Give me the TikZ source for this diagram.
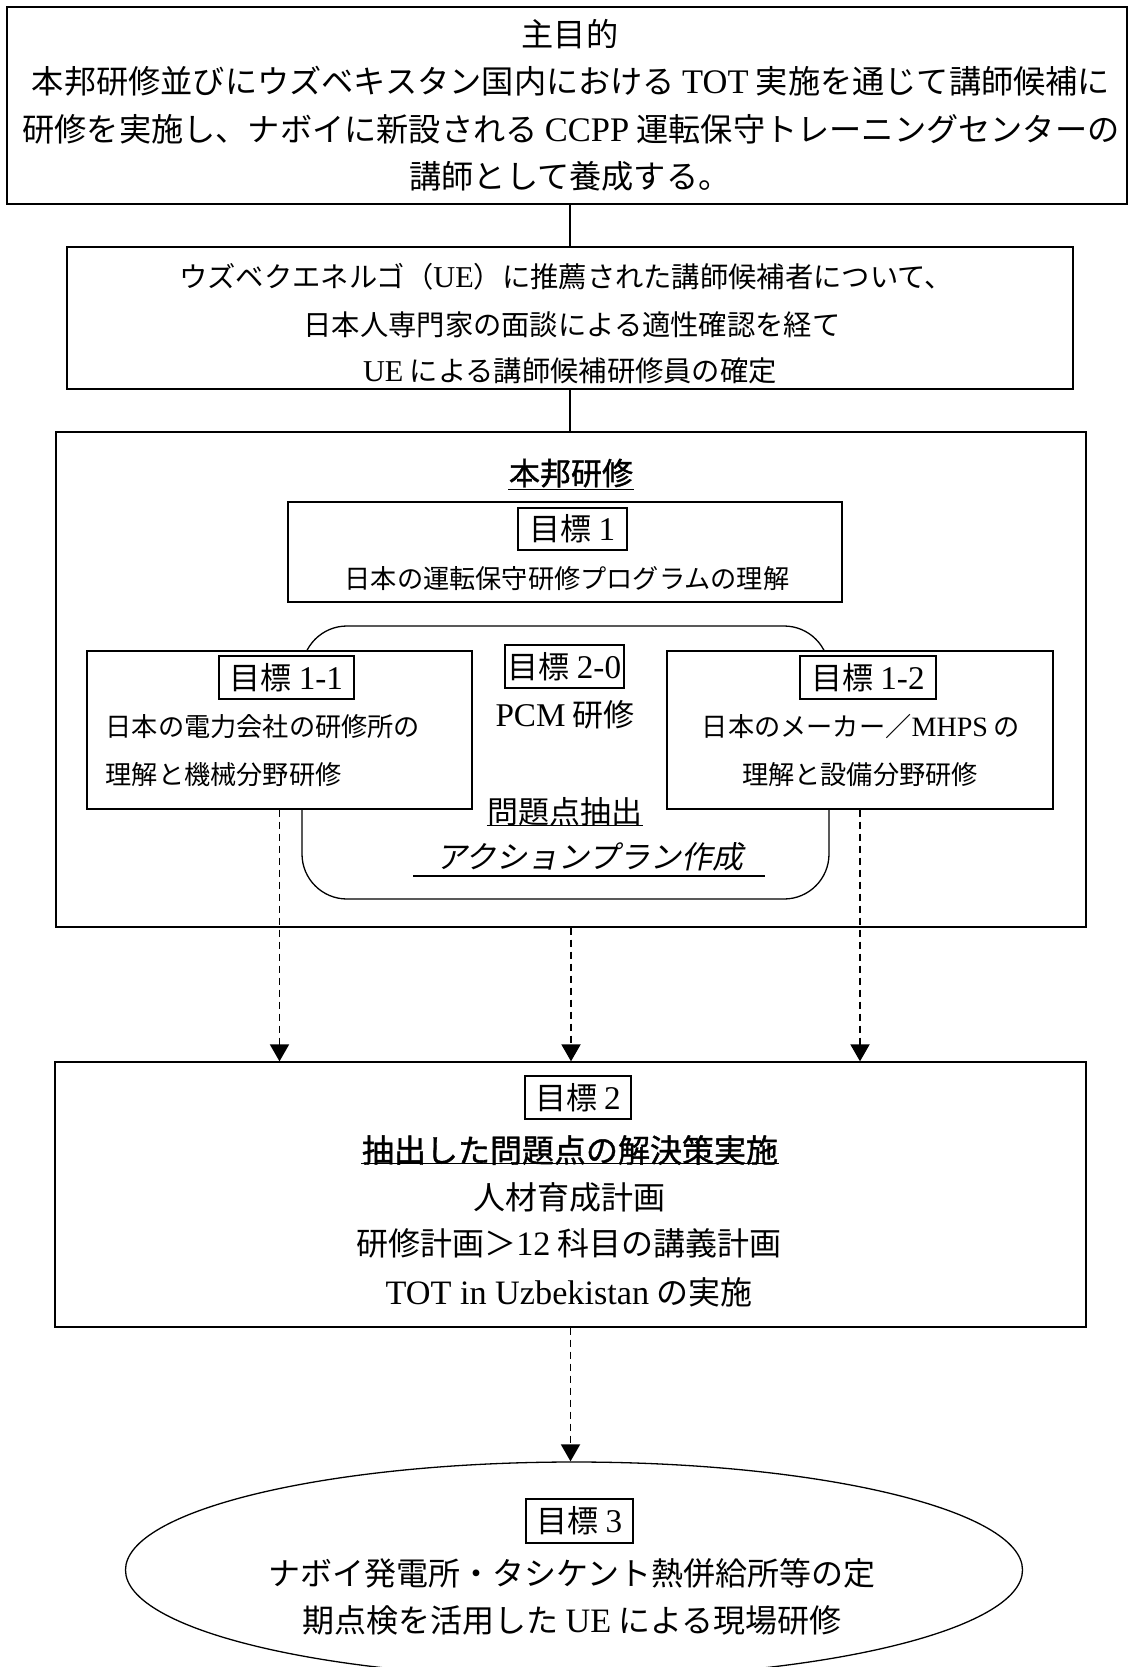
\documentclass[tikz,border=0pt]{standalone}
\usepackage{fontspec}
\setmainfont{Noto Sans CJK JP}
\newfontfamily\lat[Scale=1.07]{Liberation Serif}
\newfontfamily\jpbf[FakeBold=1.2]{Noto Sans CJK JP}
\newfontfamily\jpit[FakeSlant=0.2]{Noto Sans CJK JP}
\usetikzlibrary{arrows.meta,shapes.geometric,calc}
\begin{document}
\begin{tikzpicture}[x=1pt,y=-1pt,line width=1.3pt,
  txtT/.style={font=\fontsize{32.2}{32.2}\selectfont,inner sep=0pt,text height=28.3pt,text depth=3.9pt},
  txtL/.style={font=\fontsize{31}{31}\selectfont,inner sep=0pt,text height=27.3pt,text depth=3.7pt},
  txtX/.style={font=\fontsize{32}{32}\selectfont,inner sep=0pt,text height=28.2pt,text depth=3.8pt},
  txtM/.style={font=\fontsize{28.3}{28.3}\selectfont,inner sep=0pt,text height=24.9pt,text depth=3.4pt},
  txtS/.style={font=\fontsize{26.2}{26.2}\selectfont,inner sep=0pt,text height=23pt,text depth=3.2pt},
  box/.style={draw,line width=1.3pt,inner sep=0pt},
  lbl/.style={draw,line width=1.6pt,txtL,minimum height=43pt},
  uline/.style={line width=1.5pt},
  dashar/.style={line width=1.9pt,dash pattern=on 7pt off 5pt,-{Triangle[width=19pt,length=17pt]}}
]
\path[use as bounding box] (0,0) rectangle (1134,1667);
\clip (0,0) rectangle (1134,1667);

% top box
\node[box,line width=2pt,minimum width=1120pt,minimum height=197pt] (top) at (567,105.5) {};
\node[txtT] (top1) at (570,34) {主目的};
\node[txtT] (top2) at (571,81) {本邦研修並びにウズベキスタン国内における {\lat TOT} 実施を通じて講師候補に};
\node[txtT] (top3) at (571,129) {研修を実施し、ナボイに新設される {\lat CCPP} 運転保守トレーニングセンターの};
\node[txtT] (top4) at (570,176) {講師として養成する。};

% box B
\node[box,minimum width=1006pt,minimum height=142pt] (bb) at (570,318) {};
\node[txtM] (bb1) at (566,277) {ウズベクエネルゴ（{\lat UE}）に推薦された講師候補者について、};
\node[txtM] (bb2) at (572,324.5) {日本人専門家の面談による適性確認を経て};
\node[txtM] (bb3) at (570,371) {{\lat UE} による講師候補研修員の確定};

\draw (top.south -| bb.north) -- (bb.north);

% big box
\node[box,minimum width=1030pt,minimum height=495pt] (big) at (571,679.5) {};
\draw (bb.south) -- (bb.south |- big.north);
\node[txtL,font=\fontsize{31}{31}\selectfont\jpbf] (ttl) at (571,473) {本邦研修};
\draw[uline] ($(ttl.south west)+(0,0.5)$) -- ($(ttl.south east)+(0,0.5)$);

% goal 1
\node[box,minimum width=554pt,minimum height=100pt] (g1) at (565,552) {};
\node[lbl,minimum width=109pt,minimum height=42pt] (l1) at (572.5,529) {目標 {\lat 1}};
\node[txtS] (g1t) at (567,579) {日本の運転保守研修プログラムの理解};

% PCM rounded
\node[box,rounded corners=45pt,minimum width=527pt,minimum height=273pt] (pcm) at (565.5,762.5) {};

% goal 1-1 / 1-2
\node[box,fill=white,minimum width=385pt,minimum height=158pt] (b11) at (279.5,730) {};
\node[box,fill=white,minimum width=386pt,minimum height=158pt] (b12) at (860,730) {};
\node[lbl,minimum width=135pt] (l11) at (286.5,677.5) {目標 {\lat 1-1}};
\node[lbl,minimum width=136pt] (l12) at (868,677.5) {目標 {\lat 1-2}};
\node[lbl,minimum width=119pt] (l20) at (564.5,666.5) {目標 {\lat 2-0}};
\node[txtS,anchor=west] (b11a) at (105,727) {日本の電力会社の研修所の};
\node[txtS,anchor=west] (b11b) at (105,775) {理解と機械分野研修};
\node[txtS] (b12a) at (861,727) {日本のメーカー／{\lat MHPS} の};
\node[txtS] (b12b) at (860,775) {理解と設備分野研修};

\node[txtL] (pcmt) at (565,715) {{\lat PCM} 研修};
\node[txtL] (mon) at (565,812) {問題点抽出};
\draw[uline] ($(mon.south west)+(0,-2.5)$) -- ($(mon.south east)+(0,-2.5)$);
\node[txtL,font=\fontsize{31}{31}\selectfont\jpit] (ap) at (590,857) {アクションプラン作成};
\coordinate (apL) at (413,876);
\coordinate (apR) at (765,876);
\draw[uline] (apL) -- (apR);

% goal 2
\node[box,minimum width=1031pt,minimum height=265pt] (b2) at (570.5,1194.5) {};
\node[lbl,minimum width=106pt] (l2) at (578,1097.5) {目標 {\lat 2}};
\node[txtX,font=\fontsize{32}{32}\selectfont\jpbf] (b2a) at (570,1150) {抽出した問題点の解決策実施};
\draw[uline] ($(b2a.south west)+(0,-3)$) -- ($(b2a.south east)+(0,-3)$);
\node[txtX] (b2b) at (569,1197) {人材育成計画};
\node[txtX] (b2c) at (569,1243) {研修計画＞{\lat 12} 科目の講義計画};
\node[txtX] (b2d) at (569,1292) {{\lat TOT in Uzbekistan} の実施};

% arrows into goal 2
\draw[dashar] (b11.south) -- (b11.south |- b2.north);
\draw[dashar] (big.south) -- (big.south |- b2.north);
\draw[dashar] (b12.south) -- (b12.south |- b2.north);

% goal 3 ellipse
\node[draw,ellipse,line width=1.3pt,inner sep=0pt,minimum width=897pt,minimum height=216pt] (ell) at (574,1570) {};
\draw[dashar] (b2.south) -- (b2.south |- ell.north);
\node[lbl,minimum width=107pt,minimum height=44pt] (l3) at (579.5,1521) {目標 {\lat 3}};
\node[txtX] (e1) at (572,1573) {ナボイ発電所・タシケント熱併給所等の定};
\node[txtX] (e2) at (572,1620) {期点検を活用した {\lat UE} による現場研修};
\end{tikzpicture}
\end{document}
